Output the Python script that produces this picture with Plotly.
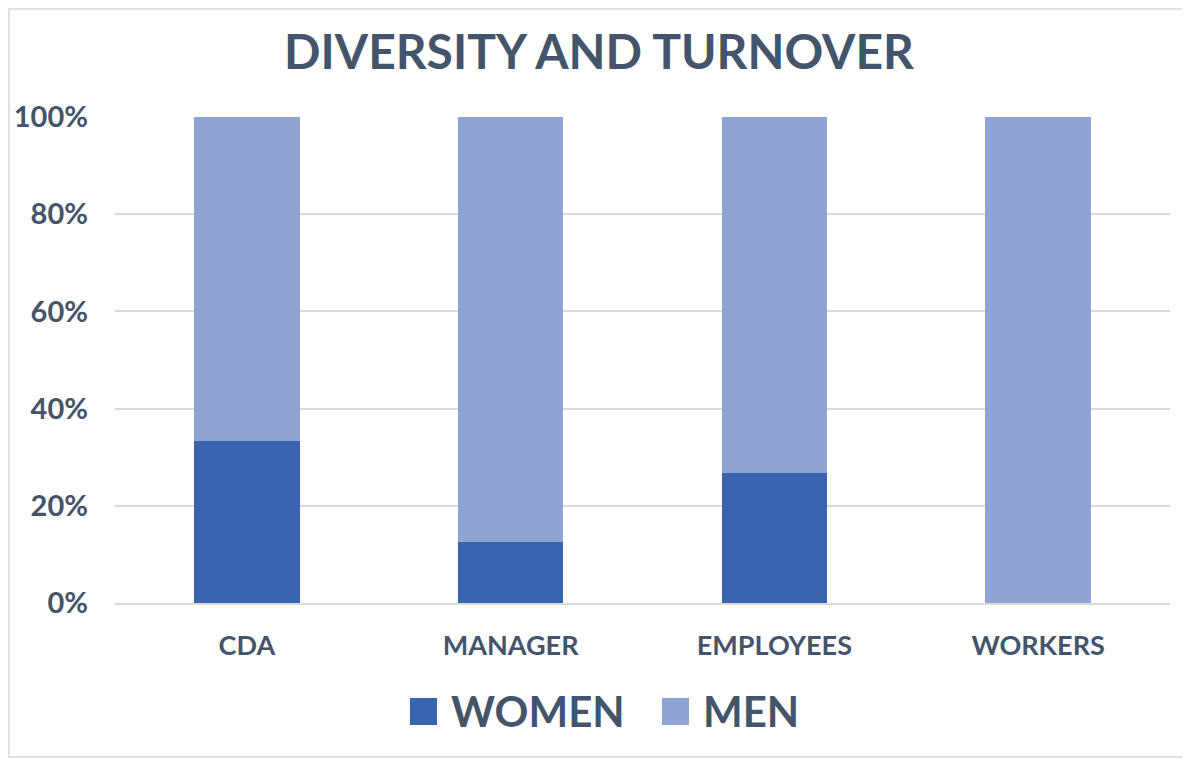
import plotly.graph_objects as go

categories = ["CDA", "MANAGER", "EMPLOYEES", "WORKERS"]
women = [33.3, 12.5, 26.7, 0.0]
men = [66.7, 87.5, 73.3, 100.0]
y_ticks = [0, 20, 40, 60, 80, 100]
y_tick_labels = ["0%", "20%", "40%", "60%", "80%", "100%"]
series_names = ["WOMEN", "MEN"]
series_colors = ["#3A64AD", "#8FA3D5"]

TEXT = "#44546A"
FONT = "Lato"

# page offset of the figure (body margin) and plot-area geometry in page px
OFF = 8
W, H = 1190 - OFF, 758 - OFF
L, R, T, B = 115 - OFF, 20, 117 - OFF, 155
PW, PH = W - L - R, H - T - B


def px(xp):
    return (xp - (L + OFF)) / PW


def py(yp):
    return ((T + OFF + PH) - yp) / PH


fig = go.Figure()
for name, vals, col in zip(series_names, [women, men], series_colors):
    fig.add_trace(go.Bar(name=name, x=categories, y=vals, marker_color=col,
                         marker_line_width=0, showlegend=False))

fig.update_layout(
    barmode="stack",
    bargap=0.6,
    width=W, height=H,
    margin=dict(l=L, r=R, t=T, b=B, autoexpand=False),
    paper_bgcolor="white", plot_bgcolor="white",
    title=dict(text="<b>DIVERSITY AND TURNOVER</b>", x=0.5, xanchor="center",
               y=1 - (52 - OFF) / H, yanchor="middle",
               font=dict(family=FONT, size=48, color=TEXT)),
    font=dict(family=FONT, color=TEXT),
)
fig.update_yaxes(range=[0, 100], tickvals=y_ticks, ticktext=y_tick_labels,
                 showgrid=True, gridcolor="#D9D9D9", gridwidth=1.5,
                 zeroline=False, showline=False, ticks="", automargin=False,
                 tickfont=dict(family=FONT, size=29, color=TEXT, weight="bold"),
                 ticklabelstandoff=26)
fig.update_xaxes(showline=True, linecolor="#D9D9D9", linewidth=1.5, ticks="",
                 automargin=False,
                 tickfont=dict(family=FONT, size=27, color=TEXT, weight="bold"),
                 ticklabelstandoff=18)

# outer chart border
fig.add_shape(type="rect", xref="paper", yref="paper",
              x0=px(OFF + 1), x1=px(1189), y0=py(757), y1=py(OFF + 1),
              line=dict(color="#D9D9D9", width=1.5), fillcolor="rgba(0,0,0,0)", layer="below")

# legend (square swatches + labels)
legend_sq_x = [410, 662]
legend_tx_x = [451, 703]
for name, col, sx, tx in zip(series_names, series_colors, legend_sq_x, legend_tx_x):
    fig.add_shape(type="rect", xref="paper", yref="paper",
                  x0=px(sx), x1=px(sx + 27), y0=py(725), y1=py(698),
                  line=dict(width=0), fillcolor=col)
    fig.add_annotation(xref="paper", yref="paper", x=px(tx - 2), y=py(711),
                       xanchor="left", yanchor="middle", showarrow=False,
                       text="<b>%s</b>" % name,
                       font=dict(family=FONT, size=42, color=TEXT))

fig.write_html("out.html")
